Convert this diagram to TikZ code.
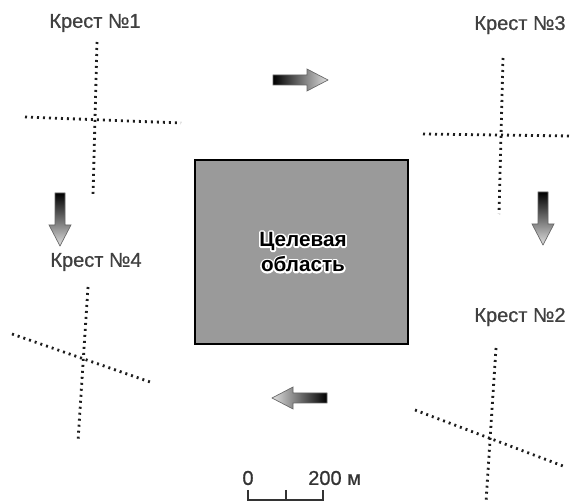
\documentclass[tikz,border=0pt]{standalone}
\usepackage{fontspec}
\setmainfont{Liberation Sans}
\newfontfamily\labfont[FakeBold=0.8]{Liberation Sans}
\newcommand{\haloon}{\special{pdf:literal direct 1 Tr 2.6 w 1 j 1 J 1 1 1 RG}}
\newcommand{\halooff}{\special{pdf:literal direct 0 Tr}}
\definecolor{lbl}{HTML}{404040}
\definecolor{area}{HTML}{9A9A9A}
\definecolor{dotc}{HTML}{1E1E1E}
\begin{document}
\begin{tikzpicture}[x=0.75pt,y=-0.75pt,
  lab/.style={text=lbl,font=\labfont\fontsize{15pt}{16pt}\selectfont,inner sep=0pt},
  dotline/.style={dotc,line width=2.1pt,dash pattern=on 1.5pt off 3.0pt},
  garr/.style={draw=gray!80!black,line width=0.5pt},
  ctext/.style={font=\bfseries\fontsize{15.5pt}{19pt}\selectfont,align=center,inner sep=0pt}]
\useasboundingbox (0,0) rectangle (572,502);
% target area
\draw[fill=area,line width=1.6pt] (195,160) rectangle (408,344);
\node[ctext,text=white] (halo) at (303,252) {\haloon Целевая\\\haloon область\halooff};
\node[ctext,text=black] (target) at (303,252) {Целевая\\область};
% labels
\node[lab] (l1) at (95,23) {Крест №1};
\node[lab] (l3) at (520,25) {Крест №3};
\node[lab] (l4) at (96,262) {Крест №4};
\node[lab] (l2) at (520,317) {Крест №2};
% crosses
\draw[dotline] (97,42) -- (93,196);
\draw[dotline] (25,117) -- (181,123);
\draw[dotline] (503,58) -- (499,214);
\draw[dotline] (423,134) -- (572,136);
\draw[dotline] (88,287) -- (78,441);
\draw[dotline] (12,334) -- (153,383);
\draw[dotline] (496,348) -- (486,502);
\draw[dotline] (415,410) -- (563,466);
% arrows
\draw[garr,left color=black,right color=gray!25] (273,75) -- (307,75) -- (307,69) -- (328,80) -- (307,91) -- (307,85) -- (273,85) -- cycle;
\draw[garr,left color=gray!25,right color=black] (327,393) -- (293,393) -- (293,387) -- (272,398) -- (293,409) -- (293,403) -- (327,403) -- cycle;
\draw[garr,top color=black,bottom color=gray!25] (55,193) -- (55,225) -- (49,225) -- (60,246) -- (71,225) -- (65,225) -- (65,193) -- cycle;
\draw[garr,top color=black,bottom color=gray!25] (538,192) -- (538,224) -- (532,224) -- (543,245) -- (554,224) -- (548,224) -- (548,192) -- cycle;
% scale bar
\node[lab,text=black!80] (s0) at (248,478) {0};
\node[lab,text=black!80,anchor=west] (s200) at (308,478) {200 м};
\draw[line width=1pt,black!80] (248,490) -- (248,500) -- (323,500) -- (323,490);
\draw[line width=1pt,black!80] (286,490) -- (286,500);
\end{tikzpicture}
\end{document}
